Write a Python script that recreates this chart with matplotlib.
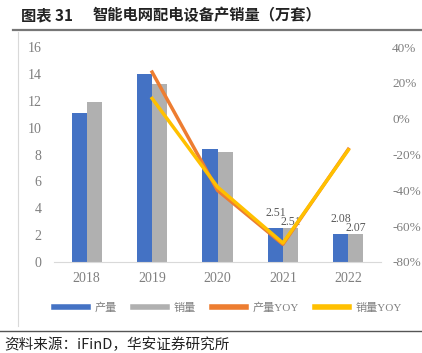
import numpy as np
import matplotlib.pyplot as plt
from matplotlib.lines import Line2D

plt.rcParams['font.family'] = ['Liberation Serif', 'Noto Sans CJK SC', 'DejaVu Sans']

# data
years = ["2018", "2019", "2020", "2021", "2022"]
output = [11.1, 14.0, 8.4, 2.51, 2.08]
sales = [11.9, 13.24, 8.2, 2.51, 2.07]
output_yoy = [np.nan, 26.0, -40.0, -70.1, -17.1]
sales_yoy = [np.nan, 11.3, -38.1, -69.4, -17.5]
labelled = [3, 4]

blue = "#4472C4"
grey = "#B0B0B0"
orange = "#ED7D31"
yellow = "#FFC000"
tick_col = "#7F7F7F"

W, H = 422, 353
fig = plt.figure(figsize=(W / 100, H / 100), dpi=100)

def fx(px):
    return px / W

def fy(py):
    return 1 - py / H

# title, frame and source
cjk = ["Noto Sans CJK SC"]
fig.text(fx(21), fy(15), "图表 31", fontsize=11, fontweight="bold", family=cjk,
         va="center", color="#222222")
fig.text(fx(93), fy(15), "智能电网配电设备产销量（万套）", fontsize=11, fontweight="bold",
         family=cjk, va="center", color="#222222")
fig.add_artist(Line2D([fx(13), fx(422)], [fy(30), fy(30)], color="#777777", lw=1.6))
fig.add_artist(Line2D([fx(17.5), fx(17.5)], [fy(32), fy(326)], color="#D9D9D9", lw=0.8))
fig.add_artist(Line2D([fx(0), fx(422)], [fy(331), fy(331)], color="#555555", lw=1.0))
fig.text(fx(4), fy(345), "资料来源：iFinD，华安证券研究所", fontsize=10.5,
         family=cjk, va="center", color="#222222")

# axes
ax = fig.add_axes([fx(54), fy(262), fx(381) - fx(54), fy(47) - fy(262)])
x = np.arange(len(years))
w = 0.23
ax.bar(x - w / 2, output, w, color=blue, label="产量")
ax.bar(x + w / 2, sales, w, color=grey, label="销量")
for i in labelled:
    ax.text(x[i] - w / 2, output[i] + 1.12, f"{output[i]:.2f}", ha="center", va="center",
            fontsize=8.5, color="#595959")
    ax.text(x[i] + w / 2, sales[i] + 0.45, f"{sales[i]:.2f}", ha="center", va="center",
            fontsize=8.5, color="#595959")
ax.set_ylim(0, 16)
ax.set_yticks(range(0, 17, 2))
ax.set_xlim(-0.5, 4.5)
ax.set_xticks(x)
ax.set_xticklabels(years)
for s in ["top", "right", "left"]:
    ax.spines[s].set_visible(False)
ax.spines["bottom"].set_color("#D9D9D9")
ax.tick_params(axis="both", length=0, labelsize=10, colors=tick_col)
ax.tick_params(axis="x", pad=7)
ax.tick_params(axis="y", pad=9)

ax2 = ax.twinx()
ax2.plot(x, output_yoy, color=orange, lw=2.5, label="产量YOY")
ax2.plot(x, sales_yoy, color=yellow, lw=2.5, label="销量YOY")
ax2.set_ylim(-80, 40)
ax2.set_yticks(range(-80, 41, 20))
ax2.set_yticklabels([f"{v}%" for v in range(-80, 41, 20)])
for s in ax2.spines.values():
    s.set_visible(False)
ax2.tick_params(axis="y", length=0, labelsize=9.5, colors=tick_col, pad=8)

h1, l1 = ax.get_legend_handles_labels()
h2, l2 = ax2.get_legend_handles_labels()
handles = [Line2D([], [], color=c, lw=4) for c in (blue, grey, orange, yellow)]
leg = fig.legend(handles, l1 + l2, loc="center", bbox_to_anchor=(fx(228), fy(308)),
                 ncol=4, frameon=False, fontsize=8, handlelength=3.0, columnspacing=1.5,
                 handletextpad=0.6)
for t in leg.get_texts():
    t.set_color(tick_col)

fig.savefig("out.png", dpi=100)
